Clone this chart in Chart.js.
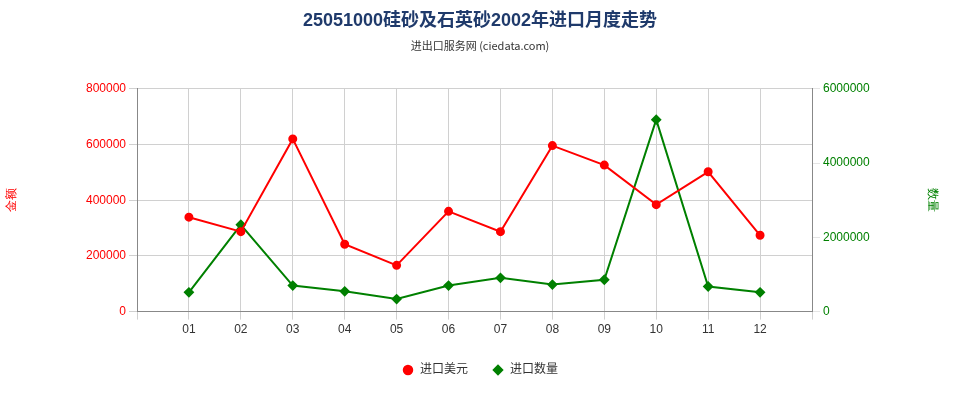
<!DOCTYPE html>
<html>
<head>
<meta charset="utf-8">
<script src="https://cdn.jsdelivr.net/npm/chart.js@4/dist/chart.umd.min.js"></script>
<style>
  body { margin: 0; background: #fff; }
  #wrap { width: 960px; height: 400px; position: relative; }
</style>
</head>
<body>
<div id="wrap"><canvas id="c"></canvas></div>
<script>
const months = ['', '01', '02', '03', '04', '05', '06', '07', '08', '09', '10', '11', '12', ''];
const valueUsd = [null, 339000, 287000, 620000, 242000, 166000, 360000, 287000, 596000, 526000, 384000, 502000, 274000, null];
const quantity = [null, 519000, 2338000, 701000, 545000, 338000, 701000, 909000, 727000, 857000, 5169000, 675000, 519000, null];
const leftTicks = [0, 200000, 400000, 600000, 800000];
const rightTicks = [0, 2000000, 4000000, 6000000];

const font = { family: 'Arial, "Liberation Sans", "Noto Sans CJK SC"', size: 12 };

new Chart(document.getElementById('c'), {
    type: 'line',
    data: {
        labels: months,
        datasets: [{
            label: '进口美元',
            data: valueUsd,
            borderColor: '#ff0000',
            backgroundColor: '#ff0000',
            borderWidth: 2,
            pointRadius: 3.5,
            pointStyle: 'circle',
            yAxisID: 'y'
        }, {
            label: '进口数量',
            data: quantity,
            borderColor: '#008000',
            backgroundColor: '#008000',
            borderWidth: 2,
            pointRadius: 4,
            pointStyle: 'rectRot',
            yAxisID: 'y1'
        }]
    },
    options: {
        responsive: true,
        maintainAspectRatio: false,
        animation: { duration: 0 },
        layout: { padding: { left: 0, right: 0, top: 0, bottom: 14 } },
        scales: {
            x: {
                offset: false,
                ticks: { color: '#333', font: font, maxRotation: 0, autoSkip: false },
                grid: { color: '#d0d0d0', drawTicks: true },
                border: { color: '#888' }
            },
            y: {
                position: 'left',
                min: 0, max: 800000,
                afterBuildTicks: (axis) => { axis.ticks = leftTicks.map(v => ({ value: v })); },
                afterFit: (axis) => { axis.width = 137; },
                ticks: { color: '#ff0000', font: font, callback: v => String(v) },
                title: { display: true, text: '金额', color: '#ff0000', font: { size: 12 }, padding: { bottom: 20 } },
                grid: { color: '#d0d0d0' },
                border: { color: '#888' }
            },
            y1: {
                position: 'right',
                min: 0, max: 6000000,
                afterBuildTicks: (axis) => { axis.ticks = rightTicks.map(v => ({ value: v })); },
                afterFit: (axis) => { axis.width = 148; },
                ticks: { color: '#008000', font: font, callback: v => String(v) },
                title: { display: true, text: '数量', color: '#008000', font: { size: 12 }, padding: { top: 20 } },
                grid: { drawOnChartArea: false },
                border: { color: '#888' }
            }
        },
        plugins: {
            title: {
                display: true,
                text: '25051000硅砂及石英砂2002年进口月度走势',
                color: '#1f3a6b',
                font: { size: 18, weight: 'bold', family: 'Arial, "Noto Sans CJK SC"' },
                padding: { top: 10, bottom: 8 }
            },
            subtitle: {
                display: true,
                text: '进出口服务网 (ciedata.com)',
                color: '#333',
                font: { size: 11, family: '"Noto Sans CJK SC"' },
                padding: { bottom: 36 }
            },
            legend: {
                position: 'bottom',
                labels: { usePointStyle: true, color: '#333', font: font, boxHeight: 6, padding: 24 }
            },
            tooltip: { enabled: false }
        }
    }
});
</script>
</body>
</html>
